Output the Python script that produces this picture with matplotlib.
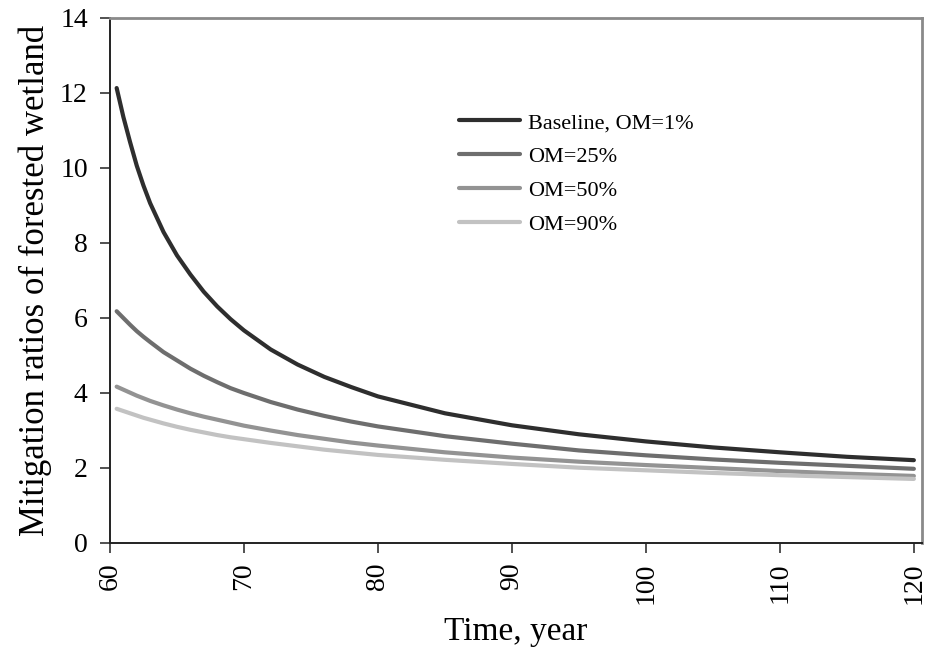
import numpy as np
import matplotlib.pyplot as plt

# --- Data ---
years = [60.5, 61, 61.5, 62, 62.5, 63, 64, 65, 66, 67, 68, 69, 70, 72, 74,
         76, 78, 80, 85, 90, 95, 100, 105, 110, 115, 120]
baseline = [12.12, 11.35, 10.68, 10.05, 9.52, 9.05, 8.28, 7.66, 7.15, 6.69,
            6.30, 5.96, 5.66, 5.15, 4.75, 4.42, 4.15, 3.90, 3.45, 3.13, 2.89,
            2.70, 2.54, 2.41, 2.29, 2.20]
om25 = [6.17, 5.99, 5.81, 5.64, 5.49, 5.35, 5.08, 4.86, 4.64, 4.45, 4.28,
        4.12, 3.99, 3.75, 3.55, 3.38, 3.23, 3.10, 2.84, 2.64, 2.46, 2.33,
        2.22, 2.13, 2.05, 1.97]
om50 = [4.16, 4.08, 4.00, 3.92, 3.85, 3.78, 3.66, 3.55, 3.45, 3.36, 3.28,
        3.20, 3.12, 2.99, 2.87, 2.77, 2.67, 2.59, 2.41, 2.27, 2.16, 2.07,
        1.99, 1.91, 1.84, 1.78]
om90 = [3.57, 3.51, 3.45, 3.39, 3.33, 3.28, 3.18, 3.09, 3.01, 2.94, 2.87,
        2.81, 2.76, 2.66, 2.57, 2.48, 2.41, 2.34, 2.21, 2.10, 2.00, 1.93,
        1.86, 1.80, 1.75, 1.70]

series = [
    ("Baseline, OM=1%", baseline, "#2e2e2e"),
    ("OM=25%", om25, "#6e6e6e"),
    ("OM=50%", om50, "#939393"),
    ("OM=90%", om90, "#c2c2c2"),
]

plt.rcParams['font.family'] = ['Liberation Serif', 'DejaVu Serif']

fig = plt.figure(figsize=(9.28, 6.56), dpi=100)
ax = fig.add_axes([0.1185, 0.1727, 0.993 - 0.1185, 0.9733 - 0.1727])

for label, vals, color in series:
    ax.plot(years, vals, color=color, lw=3, solid_capstyle='round',
            solid_joinstyle='round', label=label)

ax.set_xlim(60, 120.57)
ax.set_ylim(0, 14)
ax.set_xticks(np.arange(60, 121, 10))
ax.set_yticks(np.arange(0, 15, 2))
ax.tick_params(axis='both', direction='out', length=7, width=1.2,
               labelsize=20, color='#333333')
ax.tick_params(axis='x', labelrotation=90, pad=7)
ax.tick_params(axis='y', pad=9)

for side in ['left', 'bottom']:
    ax.spines[side].set_color('#222222')
    ax.spines[side].set_linewidth(1.4)
for side in ['top', 'right']:
    ax.spines[side].set_color('#8a8a8a')
    ax.spines[side].set_linewidth(2)

ax.set_xlabel('Time, year', fontsize=24, labelpad=9)
ax.set_ylabel('Mitigation ratios of forested wetland', fontsize=25, labelpad=6)

ax.legend(loc='upper left', bbox_to_anchor=(0.485, 0.842),
          bbox_transform=fig.transFigure, frameon=False, fontsize=16,
          handlelength=2.75, handletextpad=0.35, labelspacing=0.6,
          borderaxespad=0)

fig.savefig('out.png', dpi=100)
